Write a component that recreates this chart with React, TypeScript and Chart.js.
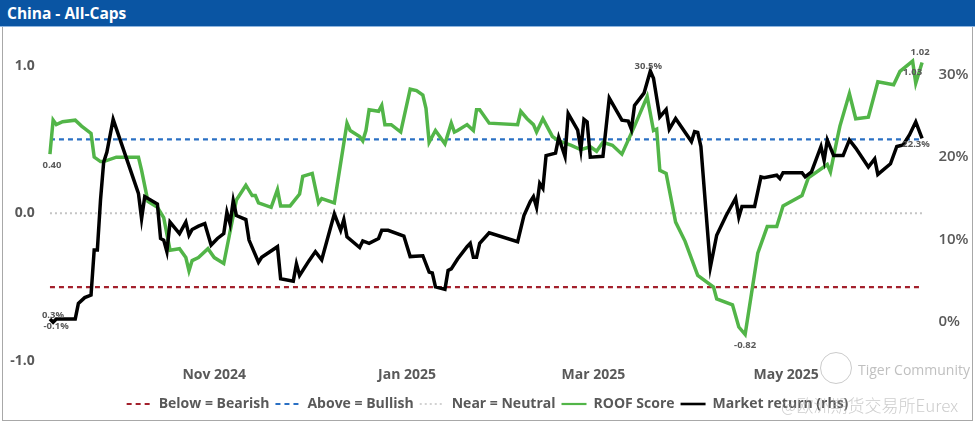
import React, { useEffect, useRef } from "react";
import { Chart, registerables } from "chart.js";

Chart.register(...registerables);

// x values are calendar days counted from 10 Sep 2024 (day 0)
const MONTH_TICK_DAYS = [52, 113, 172, 233];
const MONTH_TICK_LABELS = ["Nov 2024", "Jan 2025", "Mar 2025", "May 2025"];
const LEFT_TICKS = [-1, 0, 1];
const RIGHT_TICKS = [0, 10, 20, 30];

const ROOF_DAYS = [
  0, 1, 2, 4, 8, 10, 13, 14, 16, 17, 21, 28, 29, 31, 34, 36, 38, 41, 43, 44, 45, 47, 50, 52, 55,
  59, 62, 64, 65, 66, 70, 72, 73, 76, 79, 80, 83, 85, 86, 90, 94, 95, 98, 99, 100, 101, 104, 105,
  106, 108, 111, 114, 116, 118, 119, 120, 122, 125, 127, 128, 129, 132, 134, 135, 136, 139, 148,
  149, 151, 153, 154, 156, 159, 161, 165, 168, 171, 173, 175, 178, 181, 185, 189, 191, 192, 193,
  195, 198, 201, 205, 210, 211, 216, 218, 220, 224, 227, 230, 232, 238, 240, 246, 247, 249, 250,
  253, 255, 259, 262, 267, 269, 273, 274, 276,
];
const ROOF_SCORE = [
  0.4, 0.63, 0.6, 0.62, 0.63, 0.59, 0.54, 0.38, 0.35, 0.35, 0.38, 0.38, 0.29, 0.08, 0.04, -0.03,
  -0.25, -0.24, -0.3, -0.39, -0.32, -0.3, -0.24, -0.3, -0.34, 0.09, 0.19, 0.12, 0.12, 0.07, 0.04,
  0.16, 0.05, 0.05, 0.13, 0.25, 0.27, 0.07, 0.1, 0.07, 0.61, 0.56, 0.52, 0.49, 0.56, 0.7, 0.69,
  0.73, 0.6, 0.6, 0.55, 0.84, 0.83, 0.8, 0.71, 0.48, 0.56, 0.47, 0.61, 0.55, 0.56, 0.6, 0.56, 0.7,
  0.7, 0.61, 0.6, 0.69, 0.64, 0.6, 0.55, 0.64, 0.52, 0.49, 0.46, 0.43, 0.45, 0.42, 0.48, 0.46, 0.4,
  0.59, 0.79, 0.56, 0.57, 0.29, 0.27, -0.06, -0.19, -0.42, -0.5, -0.58, -0.62, -0.77, -0.82, -0.27,
  -0.09, -0.09, 0.05, 0.12, 0.24, 0.33, 0.28, 0.49, 0.59, 0.81, 0.64, 0.65, 0.89, 0.87, 0.96, 1.03,
  0.88, 1.02,
];

const RETURN_DAYS = [
  0, 1, 2, 8, 9, 11, 13, 14, 15, 16, 17, 18, 20, 28, 29, 30, 34, 35, 36, 37, 38, 41, 43, 44, 45,
  47, 49, 51, 53, 55, 56, 57, 58, 59, 62, 63, 66, 67, 72, 73, 77, 78, 79, 82, 84, 86, 90, 92, 93,
  94, 98, 99, 101, 104, 105, 107, 112, 114, 118, 120, 121, 122, 125, 126, 127, 129, 132, 133, 134,
  135, 136, 139, 148, 150, 152, 153, 154, 155, 156, 157, 160, 161, 163, 164, 167, 168, 169, 170,
  171, 175, 177, 181, 183, 184, 185, 188, 190, 191, 193, 195, 196, 198, 203, 204, 205, 206, 209,
  211, 214, 217, 218, 219, 223, 225, 226, 230, 231, 232, 238, 239, 241, 244, 245, 246, 248, 251,
  253, 255, 259, 261, 262, 266, 268, 270, 272, 274, 276,
];
const MARKET_RETURN = [
  0.3, -0.1, 0.3, 0.3, 2.2, 2.9, 3.2, 8.7, 8.7, 14.8, 19.4, 20.6, 24.6, 15.6, 12.5, 15.2, 14.3,
  10.1, 9.9, 8.5, 12.1, 10.7, 12.1, 10.5, 11.2, 11.6, 11.9, 9.3, 10.1, 10.7, 13.3, 11.9, 14.7, 12.9,
  12.4, 9.9, 7.2, 7.8, 9.1, 5.2, 4.9, 7.0, 5.6, 7.4, 8.5, 7.5, 13.1, 11.1, 12.4, 10.3, 9.0, 9.8,
  9.5, 10.1, 11.1, 11.1, 10.4, 7.9, 8.0, 6.0, 5.9, 4.2, 3.9, 6.2, 6.4, 7.6, 9.1, 9.5, 7.8, 7.8,
  9.5, 10.8, 9.7, 12.9, 14.6, 15.2, 13.9, 16.8, 16.2, 20.2, 20.5, 22.4, 20.1, 25.3, 23.3, 20.9,
  24.6, 24.3, 20.0, 20.1, 27.2, 24.5, 24.4, 23.4, 26.3, 27.8, 30.5, 29.6, 24.9, 25.8, 23.4, 24.7,
  21.9, 23.1, 23.0, 21.3, 6.6, 10.5, 12.9, 15.0, 12.7, 14.0, 14.0, 17.6, 17.5, 17.8, 17.4, 18.1,
  18.1, 17.6, 18.2, 21.3, 19.6, 22.1, 20.2, 20.2, 22.1, 21.1, 18.8, 19.8, 17.9, 19.2, 21.3, 21.5,
  22.7, 24.3, 22.3,
];

const BEARISH_LEVEL = -0.5;
const BULLISH_LEVEL = 0.5;
const NEUTRAL_LEVEL = 0;

const TEXT_GRAY = "#595959";
const FONT = '"Open Sans", "Noto Sans", sans-serif';

const pts = (xs: number[], ys: number[]) => xs.map((x, i) => ({ x, y: ys[i] }));
const flat = (level: number) => [
  { x: ROOF_DAYS[0], y: level },
  { x: ROOF_DAYS[ROOF_DAYS.length - 1], y: level },
];
const argMin = (a: number[]) => a.reduce((b, v, i) => (v < a[b] ? i : b), 0);
const argMax = (a: number[]) => a.reduce((b, v, i) => (v > a[b] ? i : b), 0);

const pointLabelPlugin = {
  id: "pointLabels",
  afterDatasetsDraw(chart: any) {
    const { ctx, scales } = chart;
    const xs = scales.x;
    const yl = scales.y;
    const yr = scales.y1;
    ctx.save();
    ctx.font = `bold 9.5px ${FONT}`;
    ctx.fillStyle = TEXT_GRAY;
    ctx.textAlign = "center";
    ctx.textBaseline = "middle";
    const put = (days: number[], vals: number[], i: number, axis: any, text: string, dx: number, dy: number) => {
      ctx.fillText(text, xs.getPixelForValue(days[i]) + dx, axis.getPixelForValue(vals[i]) + dy);
    };
    const rf = (v: number) => v.toFixed(2);
    const pf = (v: number) => v.toFixed(1) + "%";
    const rl = ROOF_SCORE.length - 1;
    const ml = MARKET_RETURN.length - 1;
    const rmin = argMin(ROOF_SCORE);
    const rmax = argMax(ROOF_SCORE);
    const mmin = argMin(MARKET_RETURN);
    const mmax = argMax(MARKET_RETURN);
    put(ROOF_DAYS, ROOF_SCORE, 0, yl, rf(ROOF_SCORE[0]), 2, 11);
    put(ROOF_DAYS, ROOF_SCORE, rmin, yl, rf(ROOF_SCORE[rmin]), 0, 11);
    put(ROOF_DAYS, ROOF_SCORE, rmax, yl, rf(ROOF_SCORE[rmax]), 0, 11);
    put(ROOF_DAYS, ROOF_SCORE, rl, yl, rf(ROOF_SCORE[rl]), -2, -10);
    put(RETURN_DAYS, MARKET_RETURN, 0, yr, pf(MARKET_RETURN[0]), 3, -4);
    put(RETURN_DAYS, MARKET_RETURN, mmin, yr, pf(MARKET_RETURN[mmin]), 3, 4);
    put(RETURN_DAYS, MARKET_RETURN, mmax, yr, pf(MARKET_RETURN[mmax]), -2, -5);
    put(RETURN_DAYS, MARKET_RETURN, ml, yr, pf(MARKET_RETURN[ml]), -6, 6);
    ctx.restore();
  },
};

const LEGEND_LINE_WIDTHS = [2, 2, 1.5, 2.2, 2.6];

export default function App() {
  const ref = useRef<HTMLCanvasElement>(null);

  useEffect(() => {
    if (!ref.current) return;
    const chart = new Chart(ref.current, {
      type: "line",
      data: {
        datasets: [
          {
            label: "Below = Bearish",
            data: flat(BEARISH_LEVEL),
            borderColor: "#a3202c",
            borderWidth: 2.2,
            borderDash: [5, 4],
            pointRadius: 0,
            yAxisID: "y",
            order: 4,
          },
          {
            label: "Above = Bullish",
            data: flat(BULLISH_LEVEL),
            borderColor: "#2a70c4",
            borderWidth: 2.2,
            borderDash: [5, 4],
            pointRadius: 0,
            yAxisID: "y",
            order: 3,
          },
          {
            label: "Near = Neutral",
            data: flat(NEUTRAL_LEVEL),
            borderColor: "#c4c4c4",
            borderWidth: 1.8,
            borderDash: [2, 3],
            pointRadius: 0,
            yAxisID: "y",
            order: 2,
          },
          {
            label: "ROOF Score",
            data: pts(ROOF_DAYS, ROOF_SCORE),
            borderColor: "#52b548",
            borderWidth: 3.5,
            pointRadius: 0,
            tension: 0,
            yAxisID: "y",
            order: 1,
          },
          {
            label: "Market return (rhs)",
            data: pts(RETURN_DAYS, MARKET_RETURN),
            borderColor: "#000000",
            borderWidth: 3.5,
            pointRadius: 0,
            tension: 0,
            yAxisID: "y1",
            order: 0,
          },
        ],
      },
      options: {
        responsive: false,
        animation: false,
        events: [],
        layout: { padding: { top: 45, bottom: 2, left: 0, right: 0 } },
        scales: {
          x: {
            type: "linear",
            min: -1,
            max: 278,
            grid: { display: false, drawTicks: false },
            border: { display: false },
            afterBuildTicks: (axis: any) => {
              axis.ticks = MONTH_TICK_DAYS.map((v) => ({ value: v }));
            },
            afterFit: (axis: any) => {
              axis.height = 30;
            },
            ticks: {
              autoSkip: false,
              maxRotation: 0,
              padding: 6,
              color: TEXT_GRAY,
              font: { family: FONT, size: 14, weight: "bold" },
              callback: (v: any) => MONTH_TICK_LABELS[MONTH_TICK_DAYS.indexOf(Number(v))] ?? "",
            },
          },
          y: {
            type: "linear",
            position: "left",
            min: -1,
            max: 1.139,
            grid: { display: false, drawTicks: false },
            border: { display: false },
            afterBuildTicks: (axis: any) => {
              axis.ticks = LEFT_TICKS.map((v) => ({ value: v }));
            },
            afterFit: (axis: any) => {
              axis.width = 46.8;
            },
            ticks: {
              padding: 12,
              color: TEXT_GRAY,
              font: { family: FONT, size: 14, weight: "bold" },
              callback: (v: any) => Number(v).toFixed(1),
            },
          },
          y1: {
            type: "linear",
            position: "right",
            min: -4.82,
            max: 33.66,
            grid: { display: false, drawTicks: false },
            border: { display: false },
            afterBuildTicks: (axis: any) => {
              axis.ticks = RIGHT_TICKS.map((v) => ({ value: v }));
            },
            afterFit: (axis: any) => {
              axis.width = 46.6;
            },
            ticks: {
              padding: 10,
              color: TEXT_GRAY,
              font: { family: FONT, size: 15, weight: "600" },
              callback: (v: any) => `${v}%`,
            },
          },
        },
        plugins: {
          tooltip: { enabled: false },
          title: { display: false },
          legend: {
            display: true,
            position: "bottom",
            labels: {
              usePointStyle: true,
              pointStyleWidth: 25,
              boxWidth: 25,
              padding: 6,
              color: TEXT_GRAY,
              font: { family: FONT, size: 14, weight: "bold" },
              generateLabels: (c: any) =>
                c.data.datasets.map((ds: any, i: number) => ({
                  text: ds.label,
                  strokeStyle: ds.borderColor,
                  fillStyle: ds.borderColor,
                  fontColor: TEXT_GRAY,
                  lineWidth: LEGEND_LINE_WIDTHS[i],
                  lineDash: ds.borderDash || [],
                  lineCap: "butt",
                  pointStyle: "line",
                  hidden: false,
                  datasetIndex: i,
                })),
            },
          },
        },
      },
      plugins: [pointLabelPlugin],
    } as any);
    return () => chart.destroy();
  }, []);

  return (
    <div
      style={{
        position: "fixed",
        left: 0,
        top: 0,
        width: 975,
        height: 423,
        background: "#ffffff",
        overflow: "hidden",
        fontFamily: FONT,
      }}
    >
      <canvas ref={ref} width={975} height={423} style={{ position: "absolute", left: 0, top: 0 }} />
      <div
        style={{
          position: "absolute",
          left: 2,
          top: 27,
          width: 971,
          height: 394,
          boxSizing: "border-box",
          borderLeft: "1.5px solid #a8a8a8",
          borderRight: "1.5px solid #a8a8a8",
          borderBottom: "1.5px solid #a8a8a8",
          pointerEvents: "none",
        }}
      />
      <div
        style={{
          position: "absolute",
          left: 0,
          top: 0,
          width: 975,
          height: 27,
          background: "#0a55a3",
          borderBottom: "1px solid #8fb6e0",
          boxSizing: "border-box",
          color: "#ffffff",
          fontWeight: 700,
          fontSize: 15.5,
          lineHeight: "26px",
          paddingLeft: 7,
        }}
      >
        China - All-Caps
      </div>
      <div
        style={{
          position: "absolute",
          left: 820,
          top: 352,
          width: 30,
          height: 30,
          borderRadius: "50%",
          border: "1.5px solid rgba(190,190,190,0.8)",
          pointerEvents: "none",
        }}
      />
      <div
        style={{
          position: "absolute",
          left: 858,
          top: 360,
          fontSize: 14,
          color: "rgba(185,185,185,0.9)",
          whiteSpace: "nowrap",
          pointerEvents: "none",
        }}
      >
        Tiger Community
      </div>
      <div
        style={{
          position: "absolute",
          left: 781,
          top: 392,
          fontSize: 17,
          fontWeight: 300,
          fontFamily: '"Noto Sans CJK SC", "Noto Sans", sans-serif',
          color: "rgba(170,170,170,0.6)",
          whiteSpace: "nowrap",
          pointerEvents: "none",
        }}
      >
        @欧洲期货交易所Eurex
      </div>
    </div>
  );
}
